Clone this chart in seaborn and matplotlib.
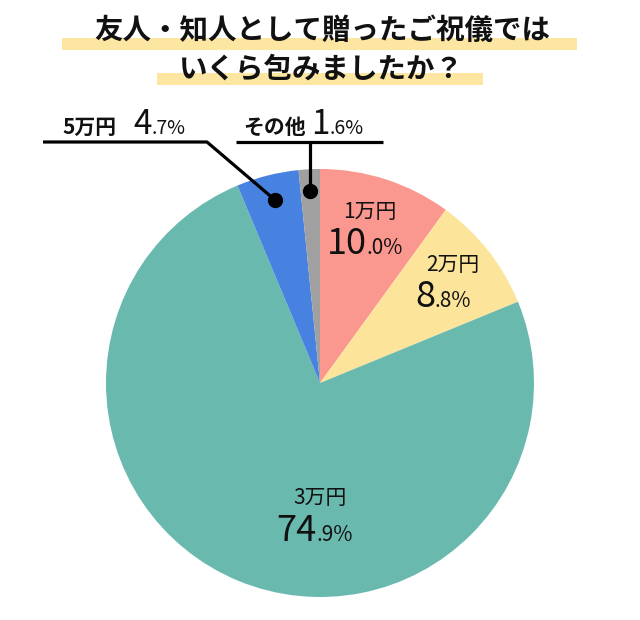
import matplotlib
matplotlib.use("Agg")
import matplotlib.pyplot as plt
from matplotlib.patches import Rectangle
import seaborn as sns

# data
labels = ["1万円", "2万円", "3万円", "5万円", "その他"]
shares = [10.0, 8.8, 74.9, 4.7, 1.6]
colors = ["#FA978F", "#FCE59B", "#69B9AF", "#4782E1", "#A0A0A0"]
title_lines = ["友人・知人として贈ったご祝儀では", "いくら包みましたか？"]

sns.set_theme(style="white")
plt.rcParams['font.family'] = ['Noto Sans CJK JP', 'DejaVu Sans']

W, H = 640, 620
fig = plt.figure(figsize=(6.4, 6.2), dpi=100)
ax = fig.add_axes([0, 0, 1, 1])


def py(y):
    # pixel row -> data y
    return H - y


# =====================================
# PIE
# =====================================
cx, cy, r = 320, 383, 214
ax.pie(shares, colors=colors, startangle=90, counterclock=False,
       center=(cx, py(cy)), radius=r, wedgeprops=dict(linewidth=0))
ax.set_xlim(0, W)
ax.set_ylim(0, H)
ax.set_aspect("equal")
ax.axis("off")

# =====================================
# TITLE with highlight bars
# =====================================
ax.add_patch(Rectangle((62, py(50)), 515, 12, color="#FCE6A2", zorder=1, lw=0))
ax.add_patch(Rectangle((157, py(85)), 326, 12, color="#FCE6A2", zorder=1, lw=0))
ax.text(322, py(31), title_lines[0], ha="center", va="center",
        fontsize=20.5, fontweight="bold", color="#111111", zorder=3)
ax.text(321, py(70), title_lines[1], ha="center", va="center",
        fontsize=20.5, fontweight="bold", color="#111111", zorder=3)


# =====================================
# LABELS
# =====================================
def pct_label(x, y, value, big_size, small_size):
    s = f"{value:.1f}%"
    big, small = s.split(".")
    ax.text(x, py(y), big, ha="right", va="baseline",
            fontsize=big_size, color="#111111", zorder=4)
    ax.text(x, py(y), "." + small, ha="left", va="baseline",
            fontsize=small_size, color="#111111", zorder=4)


# inside labels: (name center x, name baseline, split x, pct baseline)
inner = {0: (370, 218, 367, 254), 1: (453, 271, 435, 307), 2: (320, 504, 317, 541)}
for i, (nx, ny, sx, sy) in inner.items():
    ax.text(nx, py(ny), labels[i], ha="center", va="baseline",
            fontsize=15, color="#111111", zorder=4)
    pct_label(sx, sy, shares[i], 26, 15)

# outside labels
ax.text(62, py(134), labels[3], ha="left", va="baseline",
        fontsize=15, fontweight="bold", color="#111111")
pct_label(152, 134, shares[3], 24, 14)
ax.text(243, py(134), labels[4], ha="left", va="baseline",
        fontsize=15, fontweight="bold", color="#111111")
pct_label(330, 134, shares[4], 24, 14)

# leader lines
lw = 2.3
ax.plot([43, 207, 275], [py(142), py(142), py(200)], color="black", lw=lw,
        solid_capstyle="butt", zorder=5)
ax.plot([275], [py(200)], "o", color="black", markersize=10, zorder=6)
ax.plot([236, 383], [py(142), py(142)], color="black", lw=lw,
        solid_capstyle="butt", zorder=5)
ax.plot([310, 310], [py(142), py(191)], color="black", lw=lw, zorder=5)
ax.plot([310], [py(191)], "o", color="black", markersize=10, zorder=6)

fig.savefig("out.png", dpi=100)
